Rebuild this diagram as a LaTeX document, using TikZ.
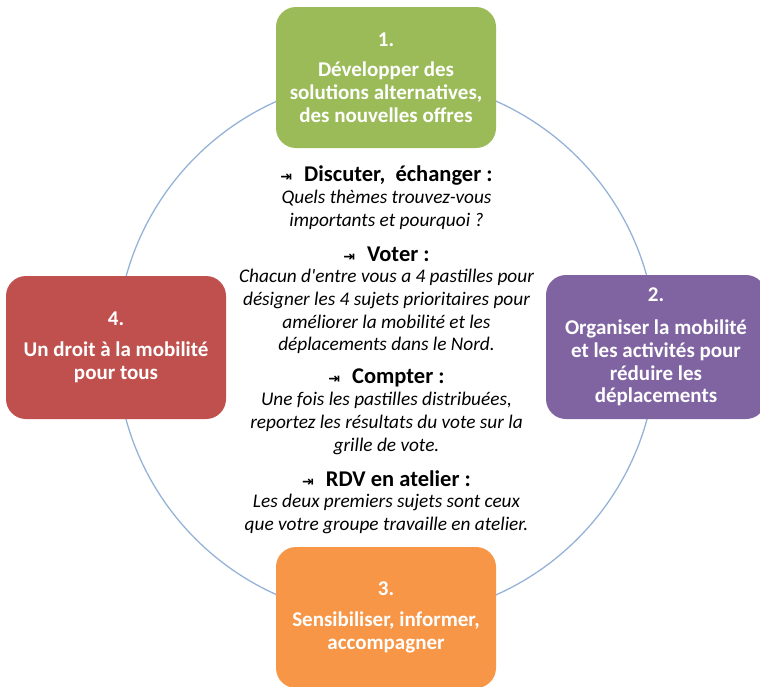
\documentclass[tikz,border=0pt]{standalone}
\usepackage{fontspec}
\setmainfont{Carlito}
\newfontfamily\arrowfont{DejaVu Sans}
\usepackage{xcolor}
\definecolor{boxgreen}{HTML}{9BBB59}
\definecolor{boxpurple}{HTML}{8064A2}
\definecolor{boxorange}{HTML}{F79646}
\definecolor{boxred}{HTML}{C0504D}
\definecolor{ringblue}{HTML}{95B3D7}
\newcommand{\tabarrow}{{\arrowfont\fontsize{14}{14}\selectfont ⇥}\hspace{12pt}}
\newcommand{\apos}{\XeTeXglyph\XeTeXcharglyph"0027\relax}

\begin{document}
\begin{tikzpicture}
    [
    x=1pt,y=-1pt,
    box/.style = {rounded corners=20pt,minimum width=220pt,inner sep=0pt,text=white,align=center,font=\bfseries\fontsize{21}{22.8}\selectfont},
    head/.style = {font=\bfseries\fontsize{22.5}{22}\selectfont},
    note/.style = {align=center,font=\itshape\fontsize{19.3}{22.7}\selectfont}
    ]
\useasboundingbox (0,0) rectangle (760,686);

\coordinate (centre) at (386.5,348);
\draw[ringblue,line width=1.3pt] (centre) circle (270pt);

\node[box,fill=boxgreen,minimum height=141pt] (one) at (386,77.5) {1.\\[8pt]Développer des\\solutions alternatives,\\des nouvelles offres};
\node[box,fill=boxpurple,minimum height=144pt] (two) at (656,347) {2.\\[10pt]Organiser la mobilité\\et les activités pour\\réduire les\\déplacements};
\node[box,fill=boxorange,minimum height=141pt] (three) at (386,617.5) {3.\\[8pt]Sensibiliser, informer,\\accompagner};
\node[box,fill=boxred,minimum height=143pt] (four) at (116,347.5) {4.\\[8pt]Un droit à la mobilité\\pour tous};

%\node[head] at (386.5,150) {};
\node[head] (discuss) at (386.5,176) {\tabarrow Discuter,\ \ échanger :};
\node[note] (discusstext) at (386.5,210) {Quels thèmes trouvez-vous\\importants et pourquoi ?};

\node[head] (vote) at (386.5,254) {\tabarrow Voter :};
\node[note] (votetext) at (386.5,311.5) {Chacun d\apos entre vous a 4 pastilles pour\\désigner les 4 sujets prioritaires pour\\améliorer la mobilité et les\\déplacements dans le Nord.};

\node[head] (count) at (386.5,378) {\tabarrow Compter :};
\node[note] (counttext) at (386.5,423.5) {Une fois les pastilles distribuées,\\reportez les résultats du vote sur la\\grille de vote.};

\node[head] (meet) at (386.5,479) {\tabarrow RDV en atelier :};
\node[note] (meettext) at (386.5,514) {Les deux premiers sujets sont ceux\\que votre groupe travaille en atelier.};

\end{tikzpicture}
\end{document}
